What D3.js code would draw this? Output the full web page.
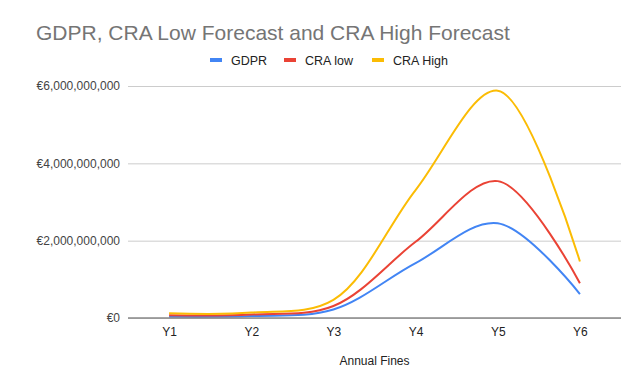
<!DOCTYPE html>
<html>
<head>
<meta charset="utf-8">
<script src="https://cdn.jsdelivr.net/npm/d3@7"></script>
<style>
  body { margin: 0; background: #fff; }
  text { font-family: Arial, "Liberation Sans", sans-serif; }
</style>
</head>
<body>
<div id="container"></div>
<script>
const years = ['Y1', 'Y2', 'Y3', 'Y4', 'Y5', 'Y6'];
const gdpr = [0.03e9, 0.05e9, 0.22e9, 1.42e9, 2.45e9, 0.62e9];
const craLow = [0.07e9, 0.09e9, 0.31e9, 1.97e9, 3.54e9, 0.9e9];
const craHigh = [0.12e9, 0.14e9, 0.47e9, 3.31e9, 5.88e9, 1.46e9];
const yTicks = [0, 2e9, 4e9, 6e9];
const seriesNames = ['GDPR', 'CRA low', 'CRA High'];
const seriesColors = ['#4285F4', '#EA4335', '#FBBC04'];

const svgWidth = 644,
  svgHeight = 388;
const plot = { left: 128, right: 621, top: 86, bottom: 318 };

const svg = d3
  .select('#container')
  .append('svg')
  .attr('width', svgWidth)
  .attr('height', svgHeight);

const xScale = d3
  .scalePoint()
  .domain(years)
  .range([plot.left, plot.right])
  .padding(0.5);

const yScale = d3
  .scaleLinear()
  .domain([0, 6e9])
  .range([plot.bottom, plot.top]);

// title
svg
  .append('text')
  .text('GDPR, CRA Low Forecast and CRA High Forecast')
  .attr('x', 36)
  .attr('y', 40)
  .attr('fill', '#757575')
  .style('font-size', '21px');

// legend
const legendX = [210, 284, 372];
seriesNames.forEach((name, i) => {
  svg
    .append('rect')
    .attr('x', legendX[i])
    .attr('y', 58)
    .attr('width', 12)
    .attr('height', 4)
    .attr('fill', seriesColors[i]);
  svg
    .append('text')
    .text(name)
    .attr('x', legendX[i] + 21)
    .attr('y', 64.5)
    .attr('fill', '#222')
    .style('font-size', '12.5px');
});

// gridlines + y labels
const yAxis = d3
  .axisLeft(yScale)
  .tickValues(yTicks)
  .tickSize(-(plot.right - plot.left))
  .tickPadding(8)
  .tickFormat((d) => '€' + d3.format(',')(d));

const yG = svg
  .append('g')
  .attr('transform', `translate(${plot.left},0)`)
  .call(yAxis);
yG.select('.domain').remove();
yG.selectAll('.tick line').attr('stroke', '#cccccc');
yG.selectAll('.tick text')
  .attr('fill', '#444')
  .style('font-size', '12px');

// x labels
const xAxis = d3.axisBottom(xScale).tickSize(0).tickPadding(9);
const xG = svg
  .append('g')
  .attr('transform', `translate(0,${plot.bottom})`)
  .call(xAxis);
xG.select('.domain').remove();
xG.selectAll('.tick text')
  .attr('fill', '#222')
  .style('font-size', '12px');

// lines
const line = d3
  .line()
  .x((d, i) => xScale(years[i]))
  .y((d) => yScale(d))
  .curve(d3.curveCatmullRom.alpha(0.5));

[gdpr, craLow, craHigh].forEach((values, i) => {
  svg
    .append('path')
    .datum(values)
    .attr('d', line)
    .attr('fill', 'none')
    .attr('stroke', seriesColors[i])
    .attr('stroke-width', 2);
});

// baseline
svg
  .append('line')
  .attr('x1', plot.left)
  .attr('x2', plot.right)
  .attr('y1', yScale(0))
  .attr('y2', yScale(0))
  .attr('stroke', '#888')
  .attr('stroke-width', 1.5);

// axis title
svg
  .append('text')
  .text('Annual Fines')
  .attr('x', (plot.left + plot.right) / 2)
  .attr('y', 365)
  .attr('text-anchor', 'middle')
  .attr('fill', '#222')
  .style('font-size', '12px');
</script>
</body>
</html>
